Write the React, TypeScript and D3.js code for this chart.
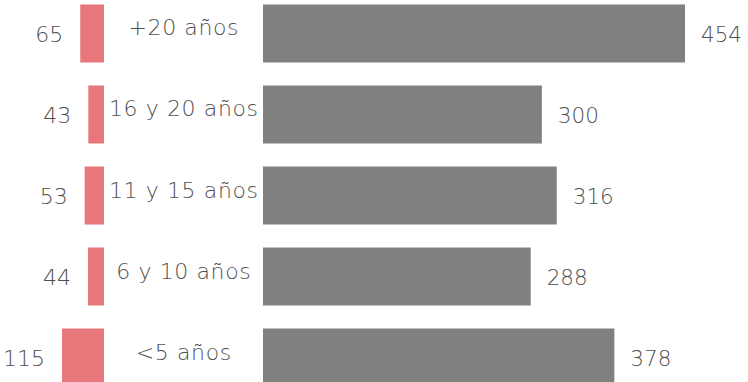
import React from "react";
import * as d3 from "d3";

const categories = ["+20 años", "16 y 20 años", "11 y 15 años", "6 y 10 años", "<5 años"];
const leftValues = [65, 43, 53, 44, 115];
const rightValues = [454, 300, 316, 288, 378];

const W = 748;
const H = 382;

export default function App() {
  const y = d3
    .scaleBand<string>()
    .domain(categories)
    .range([4.5, 386.5])
    .paddingInner(0.284)
    .paddingOuter(0);
  const xL = d3.scaleLinear().domain([0, 115]).range([104, 62]);
  const xR = d3.scaleLinear().domain([0, 454]).range([263, 685]);
  const bw = y.bandwidth();
  const font = "'DejaVu Sans', sans-serif";

  return (
    <svg
      width={W}
      height={H}
      style={{ position: "absolute", left: 0, top: 0, display: "block" }}
      fontFamily={font}
      fontWeight={200}
    >
      {categories.map((c, i) => {
        const y0 = y(c)!;
        const cy = y0 + bw / 2;
        const lv = leftValues[i];
        const rv = rightValues[i];
        return (
          <g key={c}>
            <rect x={xL(lv)} y={y0} width={xL(0) - xL(lv)} height={bw} fill="#E8777B" />
            <rect x={xR(0)} y={y0} width={xR(rv) - xR(0)} height={bw} fill="#808080" />
            <text
              x={xL(lv) - 17}
              y={cy + 8.5}
              textAnchor="end"
              fontSize={22}
              fill="#505050"
            >
              {lv}
            </text>
            <text x={xR(rv) + 16} y={cy + 8.5} textAnchor="start" fontSize={21.5} fill="#505050">
              {rv}
            </text>
            <text
              x={(xL(0) + xR(0)) / 2 + 0.3}
              y={cy + 2}
              textAnchor="middle"
              fontSize={22}
              letterSpacing={0.6}
              fill="#505050"
            >
              {c}
            </text>
          </g>
        );
      })}
    </svg>
  );
}
